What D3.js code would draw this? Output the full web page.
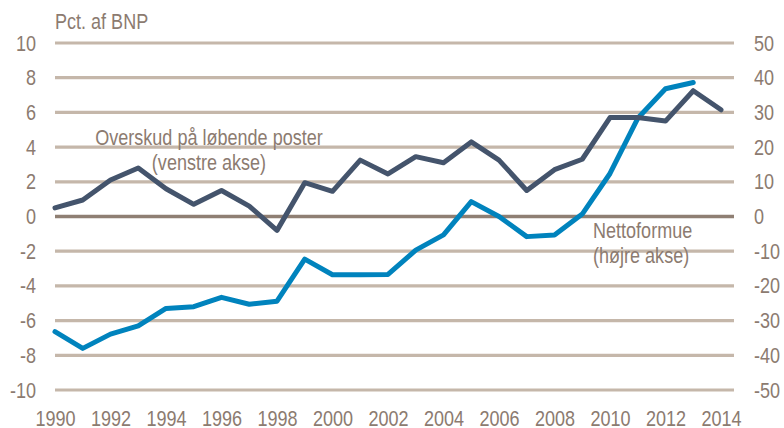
<!DOCTYPE html>
<html>
<head>
<meta charset="utf-8">
<script src="https://cdn.jsdelivr.net/npm/d3@7"></script>
<style>
  body { margin: 0; background: #fff; }
  text { font-family: "Liberation Sans", Arial, sans-serif; fill: #8c7b70; }
</style>
</head>
<body>
<script>
var w = 784;
var h = 428;
var narrowFactor = 0.82; // fake a narrow font by squeezing text horizontally

// data
var years = d3.range(1990, 2015);
var overskud = [0.5, 0.95, 2.1, 2.8, 1.6, 0.7, 1.5, 0.6, -0.8, 1.95, 1.45, 3.25, 2.45,
    3.45, 3.1, 4.3, 3.25, 1.5, 2.7, 3.3, 5.7, 5.7, 5.5, 7.25, 6.15];
var nettoformue = [-33.2, -38, -33.9, -31.5, -26.5, -26, -23.3, -25.3, -24.4, -12.3, -16.8, -16.8, -16.7,
    -9.7, -5.3, 4.3, 0, -5.8, -5.3, 0.7, 12.4, 28.3, 36.8, 38.6];
var leftTicks = d3.range(-10, 11, 2);
var rightTicks = d3.range(-50, 51, 10);
var yearTicks = d3.range(1990, 2015, 2);

var svg = d3.select("body")
    .append("svg")
    .attr("width", w)
    .attr("height", h);

// scales
var x = d3.scaleLinear().domain([1990, 2014]).range([55, 721]);
var yLeft = d3.scaleLinear().domain([-10, 10]).range([390, 43]);
var yRight = d3.scaleLinear().domain([-50, 50]).range([390, 43]);
var gridX0 = 55, gridX1 = 734;

function narrow(sel) {
    sel.each(function () {
        let t = d3.select(this);
        let xv = +t.attr("x") || 0;
        t.attr("x", xv / narrowFactor).attr("transform", "scale(" + narrowFactor + ",1)");
    });
}

// gridlines
svg.append("g")
    .selectAll("line")
    .data(leftTicks)
    .enter()
    .append("line")
    .attr("x1", gridX0)
    .attr("x2", gridX1)
    .attr("y1", d => yLeft(d))
    .attr("y2", d => yLeft(d))
    .attr("stroke", d => d == 0 ? "#8f7f73" : "#c5b7aa")
    .attr("stroke-width", d => d == 0 ? 3.5 : 3.2);

// axes
function styleAxis(g) {
    g.select(".domain").remove();
    g.selectAll("line").remove();
    g.attr("font-family", null).attr("font-size", null);
    g.selectAll("text")
        .attr("font-size", 22)
        .attr("fill", "#8c7b70")
        .call(narrow);
}

svg.append("g")
    .attr("transform", "translate(" + gridX0 + ",0)")
    .call(d3.axisLeft(yLeft).tickValues(leftTicks).tickSize(0).tickPadding(19).tickFormat(d => String(d)))
    .call(styleAxis);

svg.append("g")
    .attr("transform", "translate(" + gridX1 + ",0)")
    .call(d3.axisRight(yRight).tickValues(rightTicks).tickSize(0).tickPadding(20).tickFormat(d => String(d)))
    .call(styleAxis);

svg.append("g")
    .attr("transform", "translate(0,390)")
    .call(d3.axisBottom(x).tickValues(yearTicks).tickSize(0).tickPadding(20).tickFormat(d => String(d)))
    .call(styleAxis);

// lines
var lineLeft = d3.line()
    .x((d, i) => x(years[i]))
    .y(d => yLeft(d));
var lineRight = d3.line()
    .x((d, i) => x(years[i]))
    .y(d => yRight(d));

svg.append("path")
    .datum(nettoformue)
    .attr("d", lineRight)
    .attr("fill", "none")
    .attr("stroke", "#0083bd")
    .attr("stroke-width", 5)
    .attr("stroke-linejoin", "round")
    .attr("stroke-linecap", "round");

svg.append("path")
    .datum(overskud)
    .attr("d", lineLeft)
    .attr("fill", "none")
    .attr("stroke", "#44546c")
    .attr("stroke-width", 5)
    .attr("stroke-linejoin", "round")
    .attr("stroke-linecap", "round");

// labels
var labels = [
    { t: "Pct. af BNP", x: 55, y: 29, a: "start" },
    { t: "Overskud på løbende poster", x: 209, y: 145, a: "middle" },
    { t: "(venstre akse)", x: 209, y: 170, a: "middle" },
    { t: "Nettoformue", x: 593, y: 238, a: "start" },
    { t: "(højre akse)", x: 593, y: 263, a: "start" }
];
svg.append("g")
    .selectAll("text")
    .data(labels)
    .enter()
    .append("text")
    .attr("x", d => d.x)
    .attr("y", d => d.y)
    .attr("font-size", 22)
    .attr("text-anchor", d => d.a)
    .text(d => d.t)
    .call(narrow);
</script>
</body>
</html>
